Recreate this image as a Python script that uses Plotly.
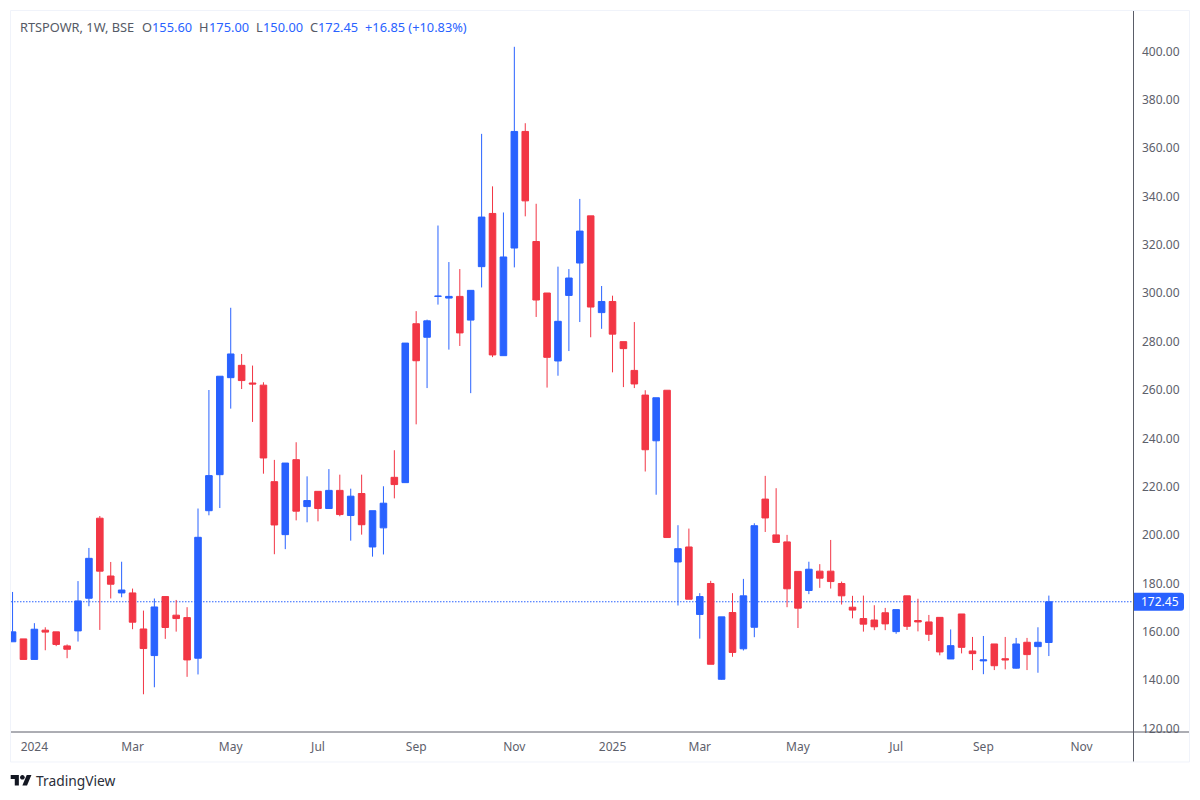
import plotly.graph_objects as go
import pandas as pd

# Weekly session starts for the BSE:RTSPOWR series
dates = pd.date_range("2023-12-18", periods=96, freq="7D")

opens = [155.9,157.1,148.6,160.7,160.0,154.2,160.4,173.9,207.0,183.1,176.1,176.1,161.2,150.2,174.6,166.9,165.9,149.1,210.1,225.0,
         265.1,270.2,262.9,262.0,222.1,200.2,231.2,211.8,218.1,211.0,218.5,208.1,217.2,195.1,203.0,223.9,221.7,287.4,281.8,298.7,
         298.0,298.7,288.9,311.0,333.0,274.2,318.7,366.9,321.4,300.1,272.0,299.1,312.5,332.0,292.0,296.6,280.0,268.1,257.9,239.0,
         259.9,188.9,195.1,167.2,180.0,140.4,168.0,153.0,161.9,214.9,200.1,197.2,185.0,177.1,185.1,185.1,180.0,170.2,165.5,164.9,
         167.9,160.1,174.9,164.7,164.1,166.0,148.8,167.4,152.1,148.0,155.0,148.9,145.0,155.7,153.9,155.6]
highs = [176.5,157.1,163.6,161.9,160.0,154.8,181.0,194.7,207.9,188.9,189.0,177.9,168.8,173.8,174.7,173.2,170.2,211.0,260.0,265.7,
         294.0,274.9,270.1,263.2,231.1,229.8,238.4,224.3,218.1,227.3,225.0,219.2,225.0,210.1,220.2,235.1,279.4,292.6,289.1,328.0,
         312.9,310.0,301.2,365.9,344.2,333.4,401.9,370.3,337.0,300.1,311.0,310.0,339.0,332.0,303.0,299.0,280.0,288.1,259.9,256.8,
         259.9,204.1,202.7,176.0,181.1,166.2,176.0,181.9,204.9,224.5,219.4,200.1,185.0,189.0,188.0,198.0,180.8,174.9,175.0,171.0,
         169.9,169.2,174.9,173.7,167.0,166.0,161.0,167.4,157.9,158.3,155.0,157.9,157.5,157.5,161.9,175.0]
lows = [155.9,148.6,148.6,152.4,154.1,149.1,156.0,170.6,160.8,173.8,174.3,161.1,134.2,137.1,157.1,160.1,141.4,142.4,208.2,211.2,
        252.3,260.4,246.8,225.4,192.1,194.2,206.1,205.3,205.7,211.0,207.8,197.7,200.2,191.1,192.0,215.2,221.7,245.8,260.8,295.3,
        276.7,278.2,258.7,302.4,273.6,274.2,310.7,331.8,290.2,261.0,265.9,276.1,288.1,281.8,285.3,267.3,261.2,260.8,226.3,216.7,
        199.0,170.9,173.5,157.2,146.6,140.2,149.7,152.3,157.8,201.3,197.0,170.2,161.6,175.6,178.2,177.9,171.3,165.6,160.1,160.7,
        160.7,159.2,160.8,160.2,156.2,150.3,148.8,151.1,144.2,142.5,144.2,144.5,144.8,144.2,143.1,150.0]
closes = [160.0,148.6,161.1,159.9,154.8,152.8,172.8,190.4,185.1,179.7,177.3,164.0,153.1,170.3,161.8,165.5,148.4,199.1,224.6,265.7,
          274.9,263.9,262.5,231.9,204.2,229.8,209.9,214.3,211.0,218.5,208.5,216.1,204.3,210.1,213.2,220.9,279.4,272.1,288.6,298.8,
          298.7,283.6,301.2,331.5,274.5,315.0,366.9,338.2,297.2,273.5,288.4,306.3,325.7,294.3,296.6,283.1,277.1,262.5,235.3,256.8,
          199.0,194.4,173.5,174.6,146.6,166.2,151.5,174.9,203.9,207.1,197.0,177.8,169.8,185.9,182.2,180.8,174.9,169.0,163.2,162.1,
          163.3,169.2,162.3,164.1,159.0,151.7,154.3,153.6,151.0,148.4,146.0,148.4,155.0,150.6,155.7,172.45]

price_ticks = [120, 140, 160, 180, 200, 220, 240, 260, 280, 300, 320, 340, 360, 380, 400]
time_ticks = ["2024-01-01", "2024-03-04", "2024-05-06", "2024-07-01", "2024-09-02", "2024-11-04",
              "2025-01-06", "2025-03-03", "2025-05-05", "2025-07-07", "2025-09-01", "2025-11-03"]
time_labels = ["2024", "Mar", "May", "Jul", "Sep", "Nov", "2025", "Mar", "May", "Jul", "Sep", "Nov"]
last_close = 172.45

# (left edge in px, text, colour) for the OHLC status line
header_parts = [
    (19.5, "RTSPOWR, 1W, BSE", "#555a66"),
    (141.5, "O", "#555a66"), (152, "155.60", "#2962ff"),
    (199, "H", "#555a66"), (208.5, "175.00", "#2962ff"),
    (255.5, "L", "#555a66"), (262.5, "150.00", "#2962ff"),
    (309.5, "C", "#555a66"), (318, "172.45", "#2962ff"),
    (365, "+16.85 (+10.83%)", "#2962ff"),
]

UP = "#2962ff"
DOWN = "#f23645"
TEXT = "#5d606b"
RULE = "#5a5d68"
FONT = "Noto Sans"
W, H = 1200, 800
L, R, T, B = 11, 1133, 11, 732.5
PAD = 2  # annotation boxes inset their text by about this much


def px(x):
    return (x - L) / (R - L)


def py(y):
    return (B - y) / (B - T)


fig = go.Figure(go.Candlestick(
    x=dates, open=opens, high=highs, low=lows, close=closes,
    increasing=dict(line=dict(color=UP, width=1), fillcolor=UP),
    decreasing=dict(line=dict(color=DOWN, width=1), fillcolor=DOWN),
    whiskerwidth=0, showlegend=False,
))

annotations = [
    dict(xref="paper", yref="paper", x=px(x0 - PAD), y=py(27), xanchor="left", yanchor="middle",
         text=label, showarrow=False, font=dict(family=FONT, size=12.8, color=color))
    for x0, label, color in header_parts
]
annotations.append(dict(
    xref="paper", yref="y", x=px(1159.5), y=last_close, xanchor="center", yanchor="middle",
    text=f"{last_close:.2f}", showarrow=False, font=dict(family=FONT, size=12, color="#ffffff"),
))
annotations.append(dict(
    xref="paper", yref="paper", x=px(36 - PAD), y=py(781), xanchor="left", yanchor="middle",
    text="TradingView", showarrow=False, font=dict(family=FONT, size=13.8, color="#2a2e39"),
))

shapes = [
    # outer frame of the widget
    dict(type="rect", xref="paper", yref="paper", x0=px(10.5), x1=px(1189.5), y0=py(762.5), y1=py(10.5),
         line=dict(color="#f0f3fa", width=1), layer="below"),
    # last-price line
    dict(type="line", xref="paper", yref="y", x0=0, x1=1, y0=last_close, y1=last_close,
         line=dict(color=UP, width=1, dash="1.5px,1.5px"), layer="below"),
    # axis rules
    dict(type="line", xref="paper", yref="paper", x0=px(11), x1=px(1189), y0=py(732.5), y1=py(732.5),
         line=dict(color=RULE, width=1)),
    dict(type="line", xref="paper", yref="paper", x0=px(1133.5), x1=px(1133.5), y0=py(11), y1=py(762),
         line=dict(color=RULE, width=1)),
    # last-price tag
    dict(type="path", xref="paper", yref="y", xsizemode="pixel", ysizemode="pixel",
         xanchor=px(1134), yanchor=last_close,
         path="M 0 -9 L 47 -9 Q 50 -9 50 -6 L 50 6 Q 50 9 47 9 L 0 9 Z",
         fillcolor=UP, line=dict(width=0)),
    # TradingView mark: the T, the dot and the slash
    dict(type="path", xref="paper", yref="paper", xsizemode="pixel", ysizemode="pixel",
         xanchor=px(10.7), yanchor=py(786),
         path="M 8.17 0 L 4.08 0 L 4.08 6.42 L 0 6.42 L 0 10.5 L 8.17 10.5 Z",
         fillcolor="#131722", line=dict(width=0)),
    dict(type="path", xref="paper", yref="paper", xsizemode="pixel", ysizemode="pixel",
         xanchor=px(10.7), yanchor=py(786),
         path="M 16.33 0 L 11.67 0 L 16.04 10.5 L 20.71 10.5 Z",
         fillcolor="#131722", line=dict(width=0)),
    dict(type="path", xref="paper", yref="paper", xsizemode="pixel", ysizemode="pixel",
         xanchor=px(10.7), yanchor=py(786),
         path="M 9.34 8.17 C 9.34 6.88 10.38 5.84 11.67 5.84 C 12.96 5.84 14 6.88 14 8.17 "
              "C 14 9.46 12.96 10.5 11.67 10.5 C 10.38 10.5 9.34 9.46 9.34 8.17 Z",
         fillcolor="#131722", line=dict(width=0)),
]

fig.update_layout(
    width=W, height=H,
    margin=dict(l=L, r=W - R, t=T, b=H - B, pad=0),
    paper_bgcolor="#ffffff", plot_bgcolor="rgba(0,0,0,0)",
    boxgap=0.14,
    showlegend=False,
    annotations=annotations, shapes=shapes,
    xaxis=dict(
        range=[dates[0] - pd.Timedelta(days=1), dates[0] + pd.Timedelta(days=round(1122 / 10.908 * 7) - 1)],
        rangeslider=dict(visible=False),
        tickmode="array", tickvals=time_ticks, ticktext=time_labels,
        showgrid=False, zeroline=False, showline=False, ticks="",
        tickfont=dict(family=FONT, size=12, color=TEXT), ticklabelstandoff=6,
    ),
    yaxis=dict(
        range=[118.6, 416.7], side="right", tickmode="array", tickvals=price_ticks,
        tickformat=".2f", showgrid=False, zeroline=False, showline=False, ticks="",
        tickfont=dict(family=FONT, size=12, color=TEXT), ticklabelstandoff=8,
    ),
)

fig.write_html("out.html")
